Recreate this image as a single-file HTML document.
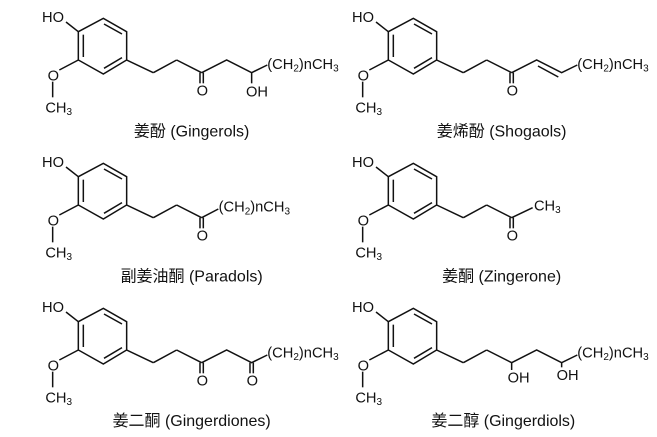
<!DOCTYPE html>
<html><head><meta charset="utf-8"><style>
html,body{margin:0;padding:0;background:#fff;}
svg{display:block;}
text{font-family:"Liberation Sans","Noto Sans CJK SC",sans-serif;fill:#111;}
</style></head><body>
<svg width="657" height="437" viewBox="0 0 657 437" xmlns="http://www.w3.org/2000/svg">
<defs>
<g id="ring" fill="none" stroke="#111" stroke-width="4.5">
<polygon points="145,95 220,55 290,95 290,180 220,222 145,180"/>
<line x1="222" y1="72" x2="276" y2="102"/>
<line x1="160" y1="104" x2="160" y2="171"/>
<line x1="222" y1="205" x2="276" y2="173"/>
<line x1="145" y1="95" x2="108" y2="66"/>
<line x1="145" y1="180" x2="88" y2="210"/>
<line x1="68" y1="245" x2="68" y2="292"/>
<line x1="290" y1="180" x2="370" y2="218"/>
<line x1="370" y1="218" x2="440" y2="180"/>
<line x1="440" y1="180" x2="515" y2="218"/>
</g>
<g id="ringtxt" font-size="44">
<text x="36" y="66">HO</text>
<text x="53" y="242">O</text>
<text x="46" y="337">CH<tspan font-size="30" dy="8">3</tspan></text>
</g>
<g id="co" stroke="#111" stroke-width="4.5">
<line x1="510" y1="218" x2="510" y2="250"/>
<line x1="520" y1="218" x2="520" y2="250"/>
</g>
</defs>

<g transform="translate(30,0) scale(0.3333)">
<use href="#ring"/><use href="#ringtxt"/><use href="#co"/>
<g fill="none" stroke="#111" stroke-width="4.5">
<polyline points="515,218 590,180 665,218 712,195"/>
<line x1="665" y1="218" x2="665" y2="250"/>
</g>
<g font-size="44">
<text x="500" y="287">O</text>
<text x="648" y="290">OH</text>
<text x="712" y="207">(CH<tspan font-size="30" dy="8">2</tspan><tspan dy="-8">)nCH</tspan><tspan font-size="30" dy="8">3</tspan></text>
<text x="485" y="410" text-anchor="middle" font-size="48">姜酚 (Gingerols)</text>
</g>
</g>

<g transform="translate(340,0) scale(0.3333)">
<use href="#ring"/><use href="#ringtxt"/><use href="#co"/>
<g fill="none" stroke="#111" stroke-width="4.5">
<polyline points="515,218 590,180 665,218 712,195"/>
<line x1="594" y1="198" x2="655" y2="231"/>
</g>
<g font-size="44">
<text x="500" y="287">O</text>
<text x="712" y="207">(CH<tspan font-size="30" dy="8">2</tspan><tspan dy="-8">)nCH</tspan><tspan font-size="30" dy="8">3</tspan></text>
<text x="485" y="410" text-anchor="middle" font-size="48">姜烯酚 (Shogaols)</text>
</g>
</g>

<g transform="translate(30,145) scale(0.3333)">
<use href="#ring"/><use href="#ringtxt"/><use href="#co"/>
<g fill="none" stroke="#111" stroke-width="4.5">
<line x1="515" y1="218" x2="565" y2="192"/>
</g>
<g font-size="44">
<text x="500" y="287">O</text>
<text x="566" y="200">(CH<tspan font-size="30" dy="8">2</tspan><tspan dy="-8">)nCH</tspan><tspan font-size="30" dy="8">3</tspan></text>
<text x="485" y="410" text-anchor="middle" font-size="48">副姜油酮 (Paradols)</text>
</g>
</g>

<g transform="translate(340,145) scale(0.3333)">
<use href="#ring"/><use href="#ringtxt"/><use href="#co"/>
<g fill="none" stroke="#111" stroke-width="4.5">
<line x1="515" y1="218" x2="578" y2="188"/>
</g>
<g font-size="44">
<text x="500" y="287">O</text>
<text x="582" y="196">CH<tspan font-size="30" dy="8">3</tspan></text>
<text x="485" y="410" text-anchor="middle" font-size="48">姜酮 (Zingerone)</text>
</g>
</g>

<g transform="translate(30,290) scale(0.3333)">
<use href="#ring"/><use href="#ringtxt"/><use href="#co"/>
<g fill="none" stroke="#111" stroke-width="4.5">
<polyline points="515,218 590,180 665,218 712,195"/>
<line x1="660" y1="218" x2="660" y2="250"/>
<line x1="670" y1="218" x2="670" y2="250"/>
</g>
<g font-size="44">
<text x="500" y="287">O</text>
<text x="650" y="287">O</text>
<text x="712" y="202">(CH<tspan font-size="30" dy="8">2</tspan><tspan dy="-8">)nCH</tspan><tspan font-size="30" dy="8">3</tspan></text>
<text x="485" y="408" text-anchor="middle" font-size="48">姜二酮 (Gingerdiones)</text>
</g>
</g>

<g transform="translate(340,290) scale(0.3333)">
<use href="#ring"/><use href="#ringtxt"/>
<g fill="none" stroke="#111" stroke-width="4.5">
<polyline points="515,218 590,180 665,218 712,195"/>
<line x1="515" y1="218" x2="515" y2="240"/>
<line x1="665" y1="218" x2="665" y2="232"/>
</g>
<g font-size="44">
<text x="503" y="277">OH</text>
<text x="650" y="270">OH</text>
<text x="712" y="202">(CH<tspan font-size="30" dy="8">2</tspan><tspan dy="-8">)nCH</tspan><tspan font-size="30" dy="8">3</tspan></text>
<text x="490" y="408" text-anchor="middle" font-size="48">姜二醇 (Gingerdiols)</text>
</g>
</g>
</svg>
</body></html>
